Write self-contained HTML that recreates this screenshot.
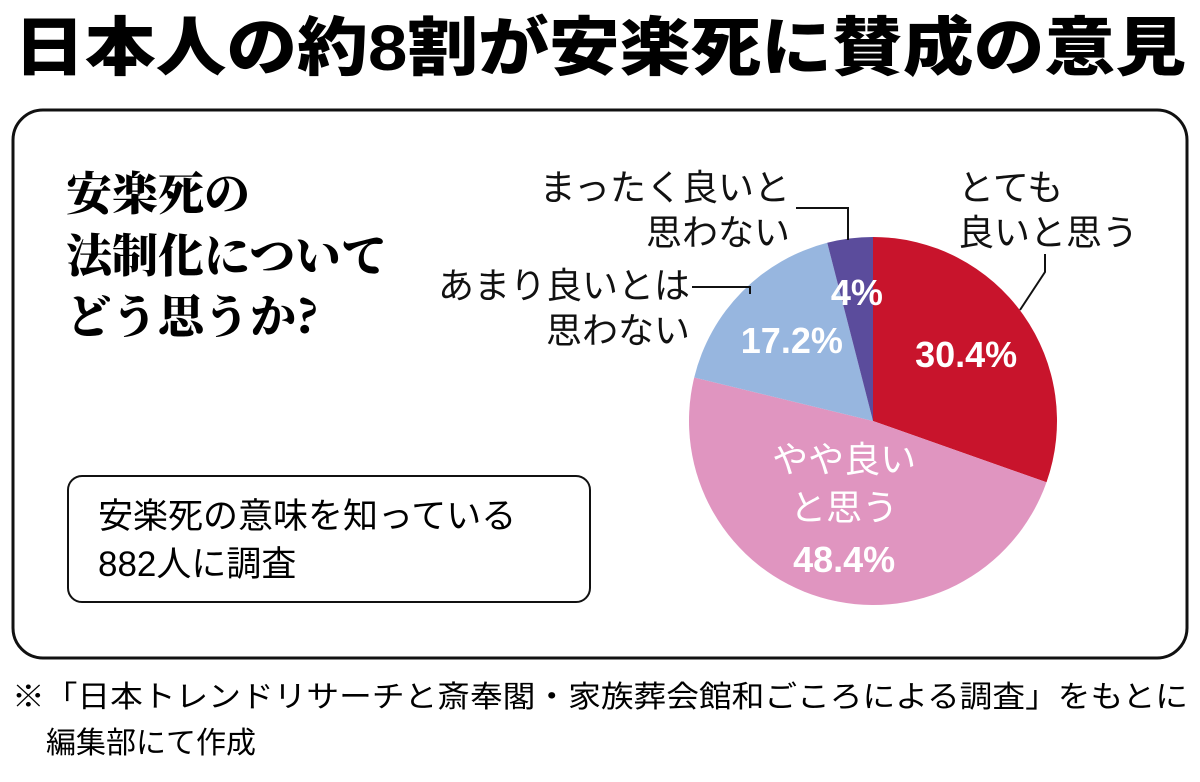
<!DOCTYPE html>
<html><head><meta charset="utf-8">
<style>
body{margin:0;width:1200px;height:782px;background:#fff;overflow:hidden;font-family:"Liberation Sans","Noto Sans CJK JP",sans-serif;}
svg{position:absolute;left:0;top:0}
</style></head>
<body>
<svg width="1200" height="782" viewBox="0 0 1200 782">
<text x="14" y="70" textLength="1172" lengthAdjust="spacingAndGlyphs" font-size="64" font-weight="900" font-family="Liberation Sans,Noto Sans CJK JP,sans-serif">日本人の約8割が安楽死に賛成の意見</text>
<rect x="13" y="110" width="1174" height="548" rx="30" fill="none" stroke="#111" stroke-width="3"/>
<g font-family="Noto Serif CJK JP,Noto Serif CJK SC,serif" font-weight="900" font-size="46">
<text x="66" y="210">安楽死の</text>
<text x="66" y="272">法制化について</text>
<text x="66" y="333">どう思うか?</text>
</g>
<rect x="68" y="476" width="522" height="126" rx="14" fill="none" stroke="#111" stroke-width="2"/>
<text x="98" y="528" font-size="35">安楽死の意味を知っている</text>
<text x="98" y="576" font-size="35">882人に調査</text>
<g id="pie"></g>
<g font-size="36" fill="#111">
<text x="958" y="200">とても</text>
<text x="958" y="245">良いと思う</text>
<text x="790" y="200" text-anchor="end">まったく良いと</text>
<text x="790" y="245" text-anchor="end">思わない</text>
<text x="690" y="298" text-anchor="end">あまり良いとは</text>
<text x="690" y="343" text-anchor="end">思わない</text>
</g>
<g stroke="#111" stroke-width="2" fill="none">
<polyline points="1045,254 1045,272 1020,310"/>
<polyline points="796,208 848,208 848,240"/>
<polyline points="692,287 750,287 750,294"/>
</g>
<text x="12" y="707" textLength="1176" lengthAdjust="spacingAndGlyphs" font-size="30">※「日本トレンドリサーチと斎奉閣・家族葬会館和ごころによる調査」をもとに</text>
<text x="46" y="753" font-size="30">編集部にて作成</text>
</svg>
<script>
const categories=["とても良いと思う","やや良いと思う","あまり良いとは思わない","まったく良いと思わない"];
const values=[30.4,48.4,17.2,4];
const valueLabels=["30.4%","48.4%","17.2%","4%"];
const colors=["#c8142c","#e095c0","#97b6df","#5b4c9c"];
const cx=873,cy=421,r=184;
const g=document.getElementById('pie');
const ns="http://www.w3.org/2000/svg";
const total=values.reduce((a,b)=>a+b,0);
function pt(f,rr){const a=f*2*Math.PI-Math.PI/2;return [cx+rr*Math.cos(a),cy+rr*Math.sin(a)];}
let acc=0;
const labelPos=[[0.62,0],[0.55,0],[0.62,0],[0.7,0]];
values.forEach((v,i)=>{
 const s=acc/total,e=(acc+v)/total;acc+=v;
 const p0=pt(s,r),p1=pt(e,r);
 const path=document.createElementNS(ns,'path');
 path.setAttribute('d',`M${cx},${cy}L${p0[0]},${p0[1]}A${r},${r} 0 ${(e-s)>0.5?1:0} 1 ${p1[0]},${p1[1]}Z`);
 path.setAttribute('fill',colors[i]);
 
 
 g.appendChild(path);
 const m=pt((s+e)/2,r*labelPos[i][0]);
 const t=document.createElementNS(ns,'text');
 t.setAttribute('text-anchor','middle');t.setAttribute('fill','#fff');
 t.setAttribute('font-size','36');t.setAttribute('font-weight','bold');
 
 
 if(i===1){
  t.setAttribute('font-weight','normal');
  [["やや良い",-58],["と思う",-10],[valueLabels[i],42]].forEach(([s2,dy],k)=>{
   const ts=document.createElementNS(ns,'tspan');ts.setAttribute('x',m[0]);ts.setAttribute('y',m[1]+dy+12);
   if(k===2)ts.setAttribute('font-weight','bold');ts.textContent=s2;t.appendChild(ts);});
 } else {t.setAttribute('x',m[0]);t.setAttribute('y',m[1]+12);t.textContent=valueLabels[i];}
 g.appendChild(t);
});
</script>
</body></html>
